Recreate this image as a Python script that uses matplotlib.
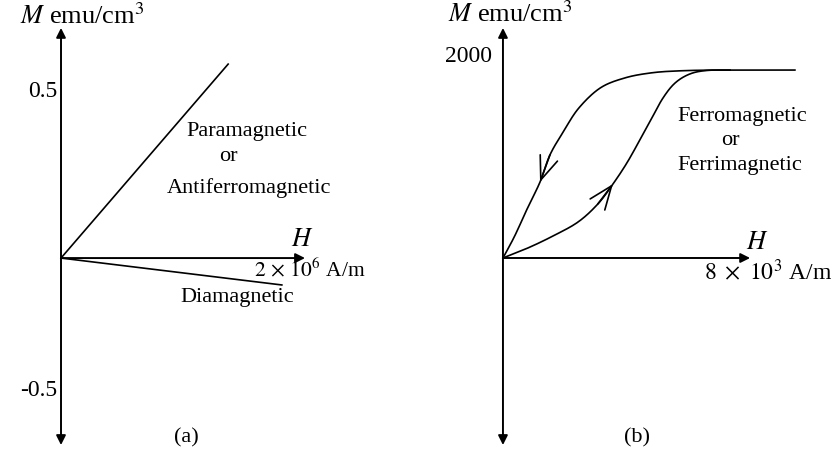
import matplotlib
matplotlib.use('Agg')
import matplotlib.pyplot as plt
import numpy as np

plt.rcParams['font.family'] = ['Liberation Serif', 'DejaVu Serif']
plt.rcParams['mathtext.fontset'] = 'stix'

# (a) linear responses, H in units of 1e6 A/m, M in emu/cm^3
para_H = [0.0, 1.37]
para_M = [0.0, 0.584]
dia_H = [0.0, 1.81]
dia_M = [0.0, -0.081]
a_ticks = [0.5, -0.4]
a_tick_labels = ['0.5', '-0.5']

# (b) ferromagnetic loop, H in units of 1e3 A/m, M in emu/cm^3
desc_H = [9.45, 7.0, 5.7, 4.8, 3.95, 3.15, 2.45, 1.95, 1.52, 1.2, 0.8, 0.38, 0.0]
desc_M = [1870, 1870, 1862, 1842, 1792, 1692, 1490, 1254, 1025, 756, 500, 219, 0]
virgin_H = [0.0, 0.81, 1.62, 2.43, 3.07, 3.56, 4.01, 4.43, 4.82, 5.18, 5.57, 6.05, 6.6, 7.35]
virgin_M = [0, 100, 219, 358, 537, 736, 945, 1174, 1393, 1592, 1741, 1831, 1866, 1870]
b_ticks = [2000]
b_tick_labels = ['2000']

FS = 16      # words
NS = 17      # numbers
LS = 19      # axis titles
fig = plt.figure(figsize=(8.36, 4.57), dpi=100)


def smooth(xs, ys, n=16):
    # Catmull-Rom through the given points, just for a smooth stroke
    p = np.column_stack([xs, ys]).astype(float)
    p = np.vstack([p[0], p, p[-1]])
    t = np.linspace(0, 1, n, endpoint=False)[:, None]
    out = []
    for i in range(1, len(p) - 2):
        p0, p1, p2, p3 = p[i - 1], p[i], p[i + 1], p[i + 2]
        out.append(0.5 * (2 * p1 + (-p0 + p2) * t
                          + (2 * p0 - 5 * p1 + 4 * p2 - p3) * t ** 2
                          + (-p0 + 3 * p1 - 3 * p2 + p3) * t ** 3))
    out.append(p[-2][None, :])
    out = np.vstack(out)
    return out[:, 0], out[:, 1]


def axis_arrow(ax, tip, start, both=False):
    style = '<|-|>' if both else '-|>'
    ax.annotate('', xy=tip, xytext=start,
                arrowprops=dict(arrowstyle=style, color='black', lw=1.4,
                                mutation_scale=14, shrinkA=0, shrinkB=0))


def curve_arrow(ax, tip, start):
    ax.annotate('', xy=tip, xytext=start,
                arrowprops=dict(arrowstyle='->,head_length=1.4,head_width=0.55',
                                color='black', lw=1.2, mutation_scale=12,
                                shrinkA=0, shrinkB=0))


# ---- panel (a)
ax = fig.add_axes([0, 0, 0.5, 1])
ax.set_xlim(-0.5, 2.926)
ax.set_ylim(-0.599, 0.777)
ax.axis('off')

axis_arrow(ax, (0, 0.693), (0, -0.563), both=True)
axis_arrow(ax, (2.0, 0), (0, 0))
ax.plot(para_H, para_M, color='black', lw=1.2)
ax.plot(dia_H, dia_M, color='black', lw=1.2)

for pos, lab in zip(a_ticks, a_tick_labels):
    ax.text(-0.03, pos, lab, ha='right', va='center', fontsize=NS)

ax.text(-0.336, 0.73, r'$M$ emu/cm$^3$', ha='left', va='center', fontsize=LS)
ax.text(1.98, 0.055, r'$H$', ha='center', va='center', fontsize=LS)
ax.text(1.58, -0.036, r'$2\,\times\,10^6$ A/m', ha='left', va='center', fontsize=15.5)
ax.text(1.03, 0.381, 'Paramagnetic', ha='left', va='center', fontsize=FS)
ax.text(1.30, 0.305, 'or', ha='left', va='center', fontsize=FS)
ax.text(0.87, 0.211, 'Antiferromagnetic', ha='left', va='center', fontsize=FS)
ax.text(0.975, -0.12, 'Diamagnetic', ha='left', va='center', fontsize=FS)
ax.text(1.03, -0.542, '(a)', ha='center', va='center', fontsize=FS)

# ---- panel (b)
bx = fig.add_axes([0.5, 0, 0.5, 1])
bx.set_xlim(-2.75, 10.78)
bx.set_ylim(-1980, 2567)
bx.axis('off')

axis_arrow(bx, (0, 2289), (0, -1861), both=True)
axis_arrow(bx, (8.0, 0), (0, 0))
bx.plot(*smooth(desc_H, desc_M), color='black', lw=1.2)
bx.plot(*smooth(virgin_H, virgin_M), color='black', lw=1.2)
curve_arrow(bx, (desc_H[9], desc_M[9]), (desc_H[8], desc_M[8]))
curve_arrow(bx, (virgin_H[5], virgin_M[5]), (virgin_H[4], virgin_M[4]))

for pos, lab in zip(b_ticks, b_tick_labels):
    bx.text(-0.35, pos, lab, ha='right', va='center', fontsize=NS)

bx.text(-1.78, 2430, r'$M$ emu/cm$^3$', ha='left', va='center', fontsize=LS)
bx.text(8.22, 150, r'$H$', ha='center', va='center', fontsize=LS)
bx.text(6.5, -140, r'$8\ \times\ 10^3$ A/m', ha='left', va='center', fontsize=NS)
bx.text(5.66, 1403, 'Ferromagnetic', ha='left', va='center', fontsize=FS)
bx.text(7.05, 1174, 'or', ha='left', va='center', fontsize=FS)
bx.text(5.66, 925, 'Ferrimagnetic', ha='left', va='center', fontsize=FS)
bx.text(4.34, -1790, '(b)', ha='center', va='center', fontsize=FS)

fig.savefig('out.png', dpi=100, facecolor='white')
